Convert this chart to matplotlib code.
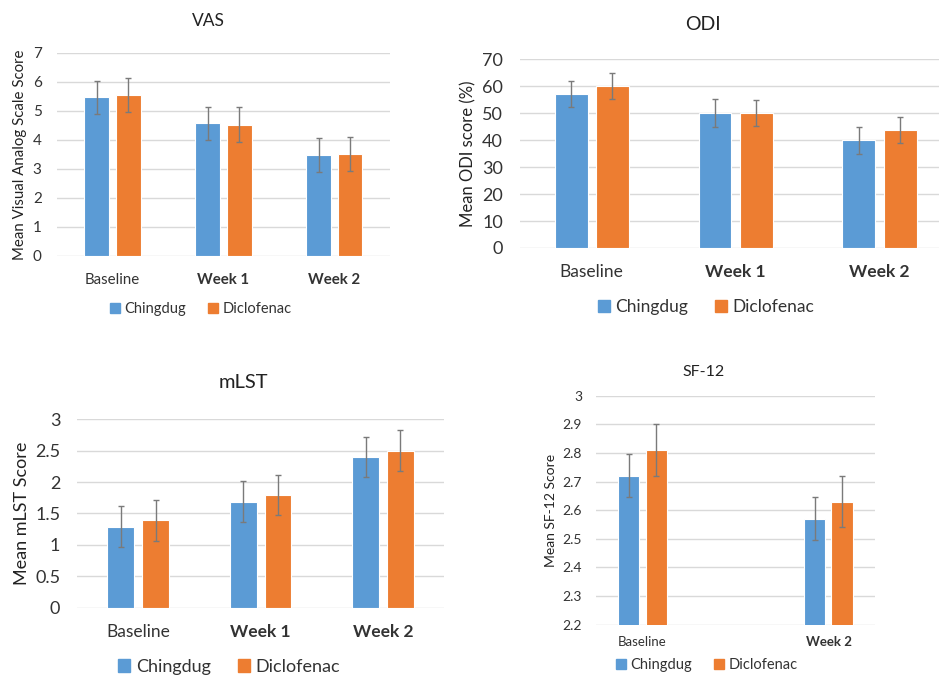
import numpy as np
import matplotlib.pyplot as plt

plt.rcParams['font.family'] = ['Lato', 'DejaVu Sans']

groups = ['Chingdug', 'Diclofenac']
colors = ['#5b9bd5', '#ed7d31']

cats = ['Baseline', 'Week 1', 'Week 2']
sf_cats = ['Baseline', '', 'Week 2']

vas_ch = [5.47, 4.57, 3.48]
vas_dc = [5.56, 4.52, 3.52]
vas_ch_err = [0.58, 0.57, 0.58]
vas_dc_err = [0.59, 0.60, 0.59]

odi_ch = [57.1, 50.0, 40.0]
odi_dc = [60.2, 50.0, 43.9]
odi_ch_err = [5.0, 5.1, 5.0]
odi_dc_err = [4.8, 4.9, 4.8]

mlst_ch = [1.29, 1.69, 2.40]
mlst_dc = [1.39, 1.80, 2.50]
mlst_ch_err = [0.33, 0.32, 0.32]
mlst_dc_err = [0.32, 0.32, 0.33]

sf_ch = [2.72, np.nan, 2.57]
sf_dc = [2.81, np.nan, 2.63]
sf_ch_err = [0.075, np.nan, 0.075]
sf_dc_err = [0.09, np.nan, 0.09]


def panel(rect, labels, ch, dc, ch_err, dc_err, ylim, step, ylabel,
          tick_fs, lab_fs, cat_fs, bw, gap, pad, cat_pad, ylab_pad):
    ax = fig.add_axes(rect)
    x = np.arange(len(labels))
    off = (bw + gap) / 2
    for vals, err, c, s in [(ch, ch_err, colors[0], -1), (dc, dc_err, colors[1], 1)]:
        ax.bar(x + s * off, vals, bw, color=c, edgecolor='white', linewidth=0.8,
               yerr=err, error_kw=dict(ecolor='#7a7a7a', elinewidth=1,
                                       capsize=2.5, capthick=1), zorder=3)
    ax.set_xlim(-0.5, len(labels) - 0.5)
    ax.set_ylim(*ylim)
    ticks = np.arange(ylim[0], ylim[1] + step / 2, step)
    ax.set_yticks(ticks)
    ax.set_yticklabels(['%g' % round(t, 2) for t in ticks], fontsize=tick_fs,
                       color='#333333')
    ax.set_xticks(x)
    ax.set_xticklabels(labels, fontsize=cat_fs, color='#333333')
    for t in ax.get_xticklabels():
        if t.get_text().startswith('Week'):
            t.set_fontweight('bold')
    ax.tick_params(length=0)
    ax.tick_params(axis='y', pad=pad)
    ax.tick_params(axis='x', pad=cat_pad)
    ax.grid(axis='y', color='#d9d9d9', linewidth=1, zorder=0)
    for sp in ax.spines.values():
        sp.set_visible(False)
    ax.set_ylabel(ylabel, fontsize=lab_fs, color='#222222', labelpad=ylab_pad)
    return ax


fig = plt.figure(figsize=(9.39, 6.79), dpi=100)

panel([0.0607, 0.623, 0.3546, 0.299], cats, vas_ch, vas_dc, vas_ch_err, vas_dc_err,
      (0, 7), 1, 'Mean Visual Analog Scale Score',
      11, 10.8, 10.8, 0.225, 0.055, 11, 12, 4)
panel([0.5533, 0.6348, 0.46, 0.278], cats, odi_ch, odi_dc, odi_ch_err, odi_dc_err,
      (0, 70), 10, 'Mean ODI score (%)',
      13, 12, 12.5, 0.229, 0.056, 12, 11.5, 4)
panel([0.082, 0.105, 0.391, 0.2775], cats, mlst_ch, mlst_dc, mlst_ch_err, mlst_dc_err,
      (0, 3), 0.5, 'Mean mLST Score',
      13, 13, 12.5, 0.22, 0.065, 12, 12, 4)
panel([0.6347, 0.080, 0.2971, 0.3373], sf_cats, sf_ch, sf_dc, sf_ch_err, sf_dc_err,
      (2.2, 3.0), 0.1, 'Mean SF-12 Score',
      10, 10, 9.5, 0.226, 0.065, 10, 8.5, 4)

titles = ['VAS', 'ODI', 'mLST', 'SF-12']
for t, (tx, ty, fs) in zip(titles, [(208, 21, 12.5), (703, 25, 14), (243, 383, 14.5), (704, 372, 11.5)]):
    fig.text(tx / 939, 1 - ty / 679, t, ha='center', va='center', fontsize=fs,
             color='#222222')

handles = [plt.Rectangle((0, 0), 1, 1, color=c) for c in colors]
for (cx, cy, fs) in [(201, 309, 10.5), (706, 307, 12.5), (229, 667, 13), (707, 665, 10.5)]:
    fig.legend(handles, groups, loc='center', bbox_to_anchor=(cx / 939, 1 - cy / 679),
               ncol=2, frameon=False, fontsize=fs, handlelength=0.7, handleheight=0.7,
               handletextpad=0.3, columnspacing=1.5, labelcolor='#333333')

fig.savefig('out.png', dpi=100)
